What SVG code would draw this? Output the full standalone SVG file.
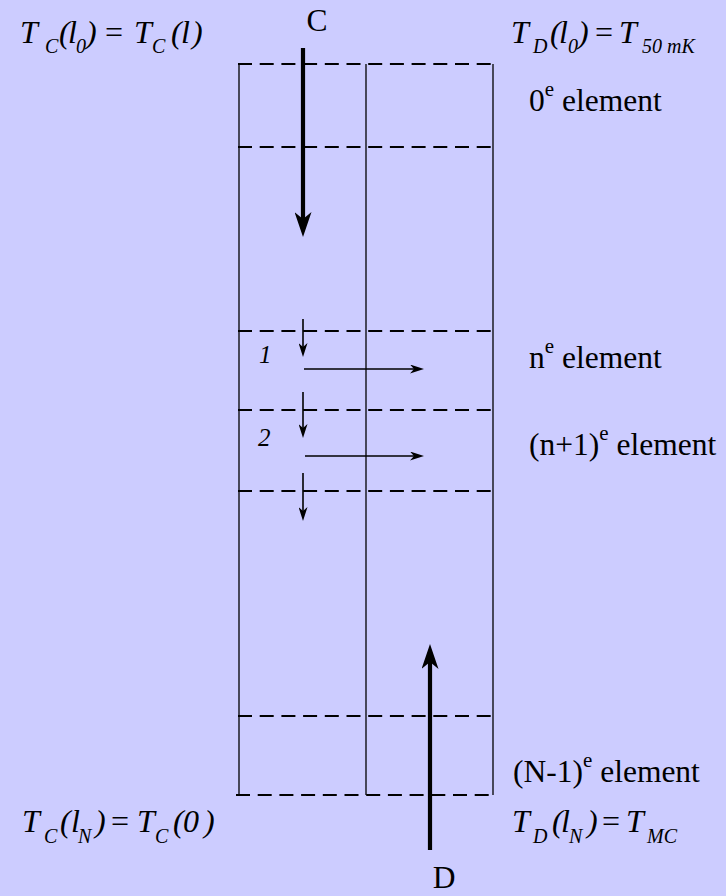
<svg xmlns="http://www.w3.org/2000/svg" width="726" height="896" viewBox="0 0 726 896">
<style>
.t{font-family:"Liberation Serif","Times New Roman",serif;fill:#000}
.lab{font-size:31.5px}
.sup{font-size:21px}
.eq{font-size:32px;font-style:italic}
.sub{font-size:20px;font-style:italic}
.num{font-size:25px;font-style:italic}
.up{font-style:normal}
.solid{stroke:#000;stroke-width:1.3;fill:none}
.dash{stroke:#000;stroke-width:2;fill:none;stroke-dasharray:14 7.7}
.thick{stroke:#000;stroke-width:4.2;fill:none}
.thin{stroke:#000;stroke-width:1.6;fill:none}
</style>
<defs>
<marker id="bigHead" markerUnits="userSpaceOnUse" markerWidth="25" markerHeight="17" refX="15" refY="8.5" orient="auto" viewBox="0 0 25 17">
<path d="M25,8.5 L0,0 L7,8.5 L0,17 Z" fill="#000"/>
</marker>
<marker id="smallHead" markerUnits="userSpaceOnUse" markerWidth="14" markerHeight="9" refX="11" refY="4.5" orient="auto" viewBox="0 0 14 9">
<path d="M14,4.5 L0,0 L4,4.5 L0,9 Z" fill="#000"/>
</marker>
</defs>
<rect width="726" height="896" fill="#CCCCFF"/>

<g id="grid">
<line class="solid" x1="239" y1="64" x2="239" y2="795"/>
<line class="solid" x1="366" y1="64" x2="366" y2="795"/>
<line class="solid" x1="493" y1="64" x2="493" y2="795"/>
<line class="dash" x1="238" y1="64" x2="494" y2="64"/>
<line class="dash" x1="238" y1="147" x2="494" y2="147"/>
<line class="dash" x1="238" y1="331" x2="494" y2="331"/>
<line class="dash" x1="238" y1="410" x2="494" y2="410"/>
<line class="dash" x1="238" y1="491" x2="494" y2="491"/>
<line class="dash" x1="238" y1="716" x2="494" y2="716"/>
<line class="dash" x1="236" y1="795" x2="494" y2="795"/>
</g>

<g id="connectors">
<line class="thick" x1="303" y1="48" x2="303" y2="227" marker-end="url(#bigHead)"/>
<line class="thick" x1="430" y1="850" x2="430" y2="654" marker-end="url(#bigHead)"/>
<line class="thin" x1="303" y1="319" x2="303" y2="354" marker-end="url(#smallHead)"/>
<line class="thin" x1="303" y1="392" x2="303" y2="435" marker-end="url(#smallHead)"/>
<line class="thin" x1="303" y1="473" x2="303" y2="518" marker-end="url(#smallHead)"/>
<line class="thin" x1="304" y1="369" x2="421" y2="369" marker-end="url(#smallHead)"/>
<line class="thin" x1="305" y1="456" x2="421" y2="456" marker-end="url(#smallHead)"/>
</g>

<g id="label-C"><text class="t lab" x="317" y="31" text-anchor="middle">C</text></g>
<g id="label-D"><text class="t lab" x="444" y="888" text-anchor="middle">D</text></g>

<g id="label-1"><text class="t num" x="259" y="363">1</text></g>
<g id="label-2"><text class="t num" x="258" y="446">2</text></g>

<g id="elem-0"><text class="t lab" x="529" y="111">0<tspan class="sup" dy="-15">e</tspan><tspan dy="15"> element</tspan></text></g>
<g id="elem-n"><text class="t lab" x="529" y="368">n<tspan class="sup" dy="-15">e</tspan><tspan dy="15"> element</tspan></text></g>
<g id="elem-n1"><text class="t lab" x="529" y="455">(n+1)<tspan class="sup" dy="-15">e</tspan><tspan dy="15"> element</tspan></text></g>
<g id="elem-N1"><text class="t lab" x="513" y="782">(N-1)<tspan class="sup" dy="-15">e</tspan><tspan dy="15"> element</tspan></text></g>

<g id="eq-top-left">
<text class="t eq" y="43"><tspan x="20">T</tspan><tspan class="sub" x="45" y="53">C</tspan><tspan x="59" y="43">(</tspan><tspan x="68">l</tspan><tspan class="sub" x="76" y="53">0</tspan><tspan x="86" y="43">)</tspan><tspan class="up" x="105">=</tspan><tspan x="134">T</tspan><tspan class="sub" x="152" y="53">C</tspan><tspan x="171" y="43">(</tspan><tspan x="181">l</tspan><tspan x="192">)</tspan></text>
</g>

<g id="eq-top-right">
<text class="t eq" y="43"><tspan x="511">T</tspan><tspan class="sub" x="533" y="53">D</tspan><tspan x="550" y="43">(</tspan><tspan x="559">l</tspan><tspan class="sub" x="568" y="53">0</tspan><tspan x="578" y="43">)</tspan><tspan class="up" x="595">=</tspan><tspan x="619">T</tspan><tspan class="sub" x="642" y="53">50 mK</tspan></text>
</g>

<g id="eq-bottom-left">
<text class="t eq" y="832"><tspan x="22">T</tspan><tspan class="sub" x="44" y="843">C</tspan><tspan x="60" y="832">(</tspan><tspan x="71">l</tspan><tspan class="sub" x="78" y="843">N</tspan><tspan x="95" y="832">)</tspan><tspan class="up" x="111">=</tspan><tspan x="137">T</tspan><tspan class="sub" x="155" y="843">C</tspan><tspan x="173" y="832">(</tspan><tspan x="183">0</tspan><tspan x="204">)</tspan></text>
</g>

<g id="eq-bottom-right">
<text class="t eq" y="832"><tspan x="512">T</tspan><tspan class="sub" x="533" y="843">D</tspan><tspan x="552" y="832">(</tspan><tspan x="561">l</tspan><tspan class="sub" x="569" y="843">N</tspan><tspan x="587" y="832">)</tspan><tspan class="up" x="602">=</tspan><tspan x="626">T</tspan><tspan class="sub" x="647" y="843">MC</tspan></text>
</g>
</svg>
